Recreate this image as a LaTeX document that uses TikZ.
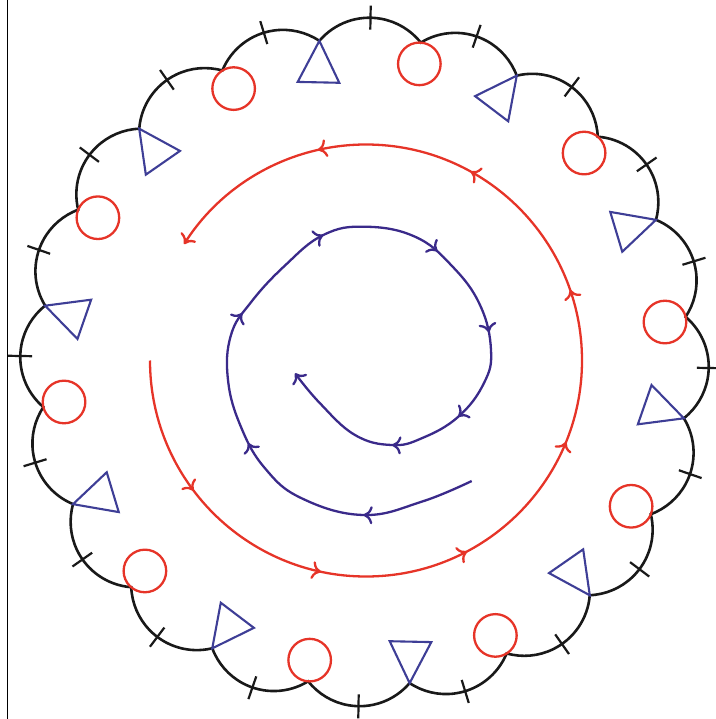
\documentclass[tikz,border=0pt]{standalone}
\usetikzlibrary{arrows.meta,decorations.markings}
\definecolor{sred}{RGB}{230,52,40}
\definecolor{tblue}{RGB}{62,62,150}
\definecolor{sblue}{RGB}{58,42,138}
\tikzset{barb/.tip={Computer Modern Rightarrow[length=9pt,width=18pt,line width=2.3pt]}}
\begin{document}
\begin{tikzpicture}[x=1pt,y=1pt,
  scallop/.style={line width=2.6pt, draw=black!90},
  tickmark/.style={line width=2.2pt, draw=black!90},
  ring/.style={circle, draw=sred, line width=2.3pt, minimum size=42.6pt, inner sep=0pt},
  tri/.style={draw=tblue, line width=2.1pt},
  flow/.style={line width=2.3pt},
]
\useasboundingbox (0,0) rectangle (715,-719);
\draw[line width=1.6pt] (7.3,0) -- (7.3,-719);
\begin{scope}[shift={(364.5,-362)}]
  \coordinate (O) at (0,0);
  % scalloped boundary
  \draw[scallop] (98:324.3) \foreach \k in {0,...,19}{ arc[start angle={139.65-18*\k}, end angle={38.35-18*\k}, radius=65.6] } -- cycle;
  % ticks
  \foreach \k in {0,...,19}
    \draw[tickmark] ({89-18*\k}:332.5) -- ({89-18*\k}:356.5);
  % circles
  \foreach \k in {1,3,...,19}
    \path ({98-18*\k}:324.3) ++({284-18*\k}:21.3) node[ring] (c\k) {};
  % triangles
  \foreach \k in {0,2,...,18}
    \draw[tri, shift={({98-18*\k}:324.3)}, rotate={268.8-18*\k}] (0,0) -- (41.5,20.8) -- (41.5,-20.8) -- cycle;
  % red path
  \draw[flow, color=sred, -{barb}, postaction={decorate}, decoration={markings,
      mark=at position 0.113 with {\arrow{barb}},
      mark=at position 0.238 with {\arrow{barb}},
      mark=at position 0.360 with {\arrow{barb}},
      mark=at position 0.482 with {\arrow{barb}},
      mark=at position 0.608 with {\arrow{barb}},
      mark=at position 0.736 with {\arrow{barb}},
      mark=at position 0.864 with {\arrow{barb}}}]
    (1.5,1.5) ++(180:216) arc[start angle=180, end angle=507.4, radius=216];
\end{scope}
\begin{scope}[yscale=-1]
  \draw[flow, color=sblue, -{barb}, postaction={decorate}, decoration={markings,
      mark=at position 0.112 with {\arrow{barb}},
      mark=at position 0.252 with {\arrow{barb}},
      mark=at position 0.386 with {\arrow{barb}},
      mark=at position 0.497 with {\arrow{barb}},
      mark=at position 0.616 with {\arrow{barb}},
      mark=at position 0.712 with {\arrow{barb}},
      mark=at position 0.805 with {\arrow{barb}},
      mark=at position 0.877 with {\arrow{barb}}}]
    plot[smooth, tension=0.7] coordinates {
      (471.7,481) (421.7,501.7) (363.3,515) (301.7,498.3) (265,468.3)
      (241,427) (228,380) (231,335) (250.8,302.5) (285,265.5)
      (323.3,235) (365,226.7) (415,236.7) (452,266) (480,305)
      (491,350) (484,383) (458.3,416.7) (421.7,438.3) (391.7,445)
      (355,435) (320,403.3) (295,373.3)};
\end{scope}
\end{tikzpicture}
\end{document}
